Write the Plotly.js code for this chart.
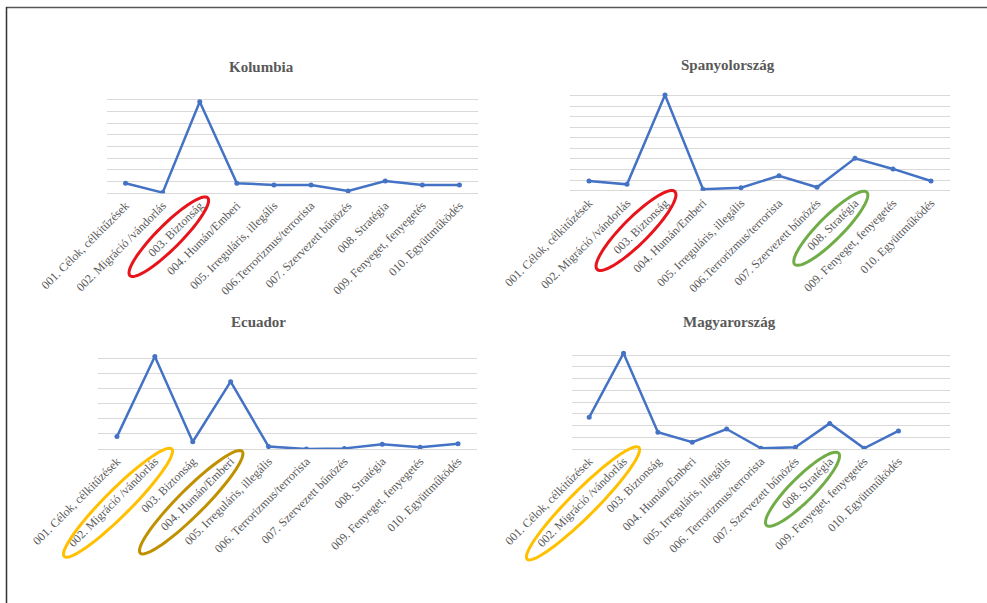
<!DOCTYPE html>
<html>
<head>
<meta charset="utf-8">
<script src="https://cdn.plot.ly/plotly-3.0.1.min.js"></script>
<style>html,body{margin:0;padding:0;background:#fff;}#chart{width:987px;height:603px;}</style>
</head>
<body>
<div id="chart"></div>
<script>
// ---- Data ----
const categoriesA = ["001. Célok, célkitűzések", "002. Migráció /vándorlás", "003. Biztonság", "004. Humán/Emberi", "005. Irreguláris, illegális", "006.Terrorizmus/terrorista", "007. Szervezett bűnözés", "008. Stratégia", "009. Fenyeget, fenyegetés", "010. Együttműködés"];
const categoriesB = ["001. Célok, célkitűzések", "002. Migráció /vándorlás", "003. Biztonság", "004. Humán/Emberi", "005. Irreguláris, illegális", "006. Terrorizmus/terrorista", "007. Szervezett bűnözés", "008. Stratégia", "009. Fenyeget, fenyegetés", "010. Együttműködés"];
const kolumbia = [4.3, 0.3, 39.2, 4.3, 3.6, 3.6, 1.0, 5.3, 3.6, 3.6];
const spanyolorszag = [4.6, 3.0, 45.3, 0.7, 1.4, 7.1, 1.6, 15.3, 10.3, 4.6];
const ecuador = [4.1, 30.6, 2.4, 22.3, 0.8, 0.0, 0.2, 1.6, 0.6, 1.7];
const magyarorszag = [13.5, 40.8, 7.1, 2.9, 8.5, 0.3, 0.7, 10.9, 0.3, 7.7];
const titles = ["Kolumbia", "Spanyolország", "Ecuador", "Magyarország"];

// ---- Layout helpers ----
const W = 987, H = 603;
const px = x => x / W;
const py = y => 1 - y / H;
const lineColor = "#4472c4";
const gridColor = "#d9d9d9";
const textColor = "#595959";
const serif = "Liberation Serif, Times New Roman, serif";

function trace(cats, vals, xa, ya) {
  return {
    x: cats, y: vals, xaxis: xa, yaxis: ya, type: "scatter", mode: "lines+markers",
    line: {color: lineColor, width: 2.5}, marker: {color: lineColor, size: 5},
    hoverinfo: "x+y", showlegend: false
  };
}
const data = [
  trace(categoriesA, kolumbia, "x", "y"),
  trace(categoriesA, spanyolorszag, "x2", "y2"),
  trace(categoriesB, ecuador, "x3", "y3"),
  trace(categoriesB, magyarorszag, "x4", "y4")
];

function xaxis(x0, x1, anchor, n) {
  return {
    domain: [px(x0), px(x1)], anchor: anchor, type: "category",
    range: [-0.5, n - 0.5], tickangle: -45, showgrid: false, zeroline: false,
    showline: false, ticks: "", ticklabelstandoff: 2,
    tickfont: {family: serif, size: 12, color: textColor}, fixedrange: true
  };
}
function yaxis(y0, y1, anchor, top) {
  return {
    domain: [py(y1), py(y0)], anchor: anchor, range: [0, top], dtick: 5, tick0: 0,
    showticklabels: false, showgrid: true, gridcolor: gridColor, gridwidth: 1,
    zeroline: true, zerolinecolor: gridColor, zerolinewidth: 1, showline: false, ticks: "", fixedrange: true
  };
}

const shapes = [];
function ellipse(cx, cy, a, b, color) {
  const th = -Math.PI / 4;
  let d = "";
  for (let i = 0; i <= 72; i++) {
    const t = 2 * Math.PI * i / 72;
    const ex = a * Math.cos(t), ey = b * Math.sin(t);
    const X = cx + ex * Math.cos(th) - ey * Math.sin(th);
    const Y = cy + ex * Math.sin(th) + ey * Math.cos(th);
    d += (i === 0 ? "M" : "L") + px(X).toFixed(5) + "," + py(Y).toFixed(5);
  }
  d += "Z";
  shapes.push({type: "path", xref: "paper", yref: "paper", path: d, line: {color: color, width: 3}});
}
ellipse(168.8, 236.7, 55, 12, "#e8141b");
ellipse(636, 230.5, 55, 13, "#e8141b");
ellipse(830.8, 228.3, 51, 12, "#70ad47");
ellipse(118, 502.7, 76, 13, "#ffc000");
ellipse(191.2, 502.2, 72, 13, "#bf9000");
ellipse(583, 503.3, 79, 13, "#ffc000");
ellipse(802.5, 489.2, 51, 12, "#70ad47");

// frame
shapes.push({type: "line", xref: "paper", yref: "paper", x0: px(6), x1: 1, y0: py(7.5), y1: py(7.5), line: {color: "#555555", width: 1.5}});
shapes.push({type: "line", xref: "paper", yref: "paper", x0: px(6.5), x1: px(6.5), y0: py(7), y1: 0, line: {color: "#333333", width: 1.5}});

const titlePos = [[261, 67], [728, 65], [258, 322], [729, 322]];
const annotations = titles.map((t, i) => ({
  text: "<b>" + t + "</b>", xref: "paper", yref: "paper",
  x: px(titlePos[i][0]), y: py(titlePos[i][1]), xanchor: "center", yanchor: "middle",
  showarrow: false, font: {family: serif, size: 15, color: textColor}
}));

const layout = {
  width: W, height: H, margin: {l: 0, r: 0, t: 0, b: 0},
  paper_bgcolor: "#ffffff", plot_bgcolor: "rgba(0,0,0,0)", showlegend: false,
  xaxis: xaxis(107, 478, "y", 10),
  yaxis: yaxis(88.3, 193.3, "x", 45),
  xaxis2: xaxis(570, 950, "y2", 10),
  yaxis2: yaxis(85, 190.7, "x2", 50),
  xaxis3: xaxis(98, 477, "y3", 10),
  yaxis3: yaxis(343.3, 449, "x3", 35),
  xaxis4: xaxis(572, 950, "y4", 11),
  yaxis4: yaxis(343.3, 449, "x4", 45),
  shapes: shapes, annotations: annotations
};

Plotly.newPlot("chart", data, layout, {displayModeBar: false, staticPlot: true});
</script>
</body>
</html>
